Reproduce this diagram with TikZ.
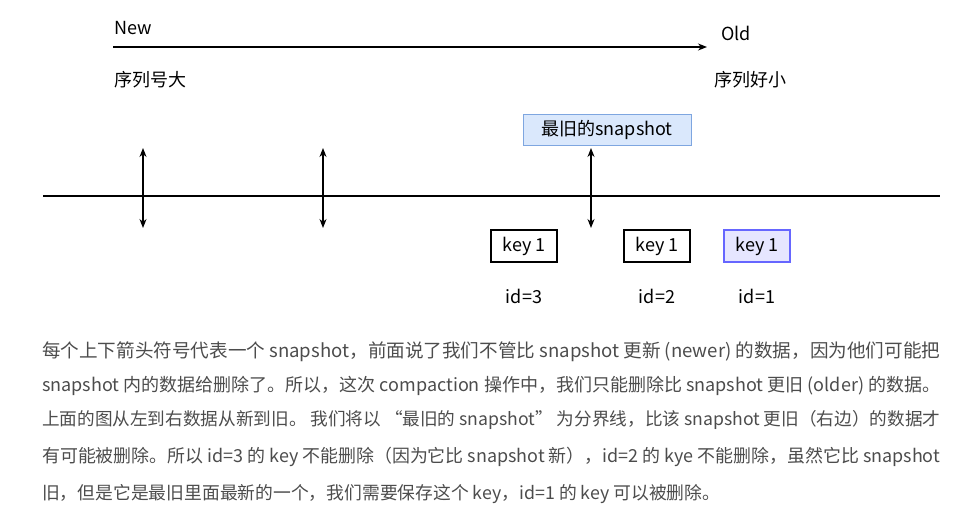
\documentclass[tikz,border=0pt]{standalone}
\usepackage{fontspec}
\setmainfont{Liberation Sans}
\newfontfamily\cjk{Noto Sans CJK SC}
\definecolor{snapfill}{HTML}{DAE8FC}
\definecolor{snapline}{HTML}{7EA6E0}
\definecolor{kfill}{HTML}{E6E6FF}
\definecolor{kline}{HTML}{6666FF}
\usetikzlibrary{arrows.meta}
\begin{document}
\begin{tikzpicture}[x=1pt,y=-1pt,
  lbl/.style={font=\fontsize{18}{20}\selectfont\cjk},
  key/.style={draw,line width=1.2pt,minimum width=66pt,minimum height=32pt,font=\fontsize{18}{20}\selectfont\cjk},
  arr/.style={line width=1.2pt,-{Stealth[length=9pt,width=7pt]}},
  dbl/.style={line width=1.2pt,{Stealth[length=9pt,width=7pt]}-{Stealth[length=9pt,width=7pt]}},
  para/.style={anchor=west,inner sep=0,text=black!70,font=\fontsize{13.5}{16}\selectfont\cjk}]
\useasboundingbox (0,0) rectangle (973,530);
\node[lbl] (new) at (133,28) {New};
\node[lbl] (old) at (736,33) {Old};
\coordinate (a1) at (113,47); \coordinate (a2) at (707,47);
\draw[arr] (a1) -- (a2);
\node[lbl] (big) at (150,80) {序列号大};
\node[lbl] (small) at (750,80) {序列好小};
\node[draw=snapline,fill=snapfill,line width=1pt,minimum width=168pt,minimum height=31pt,lbl] (snap) at (607,130) {最旧的snapshot};
\coordinate (l1) at (43,196); \coordinate (l2) at (940,196);
\draw[line width=1.2pt] (l1) -- (l2);
\foreach \x/\n in {143/p,323/q,591/r}{
  \coordinate (\n1) at (\x,148); \coordinate (\n2) at (\x,228);
  \draw[dbl] (\n1) -- (\n2);}
\node[key] (k3) at (524,246) {key 1};
\node[key] (k2) at (657,246) {key 1};
\node[key,draw=kline,fill=kfill] (k1) at (757,246) {key 1};
\node[lbl] (i3) at (524,296) {id=3};
\node[lbl] (i2) at (657,296) {id=2};
\node[lbl] (i1) at (757,296) {id=1};
\node[para] (t1) at (42,352) {\resizebox{898pt}{!}{每个上下箭头符号代表一个 snapshot，前面说了我们不管比 snapshot 更新 (newer) 的数据，因为他们可能把}};
\node[para] (t2) at (42,386) {\resizebox{898pt}{!}{snapshot 内的数据给删除了。所以，这次 compaction 操作中，我们只能删除比 snapshot 更旧 (older) 的数据。}};
\node[para] (t3) at (42,420) {\resizebox{898pt}{!}{上面的图从左到右数据从新到旧。 我们将以 “最旧的 snapshot” 为分界线，比该 snapshot 更旧（右边）的数据才}};
\node[para] (t4) at (42,457) {\resizebox{898pt}{!}{有可能被删除。所以 id=3 的 key 不能删除（因为它比 snapshot 新），id=2 的 kye 不能删除，虽然它比 snapshot}};
\node[para] (t5) at (42,494) {\resizebox{678pt}{!}{旧，但是它是最旧里面最新的一个，我们需要保存这个 key，id=1 的 key 可以被删除。}};
\end{tikzpicture}
\end{document}
